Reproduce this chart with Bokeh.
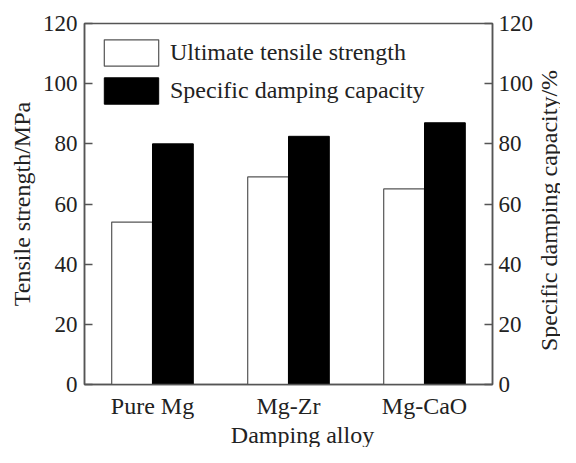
import math
from bokeh.plotting import figure
from bokeh.layouts import row, column
from bokeh.models import (ColumnDataSource, Range1d, LinearAxis, Legend, LegendItem,
                          FixedTicker, FactorRange, Label)
from bokeh.transform import dodge
from bokeh.embed import file_html
from bokeh.resources import INLINE

alloys = ["Pure Mg", "Mg-Zr", "Mg-CaO"]
tensile_strength = [54, 69, 65]          # MPa
damping_capacity = [80, 82.5, 87]        # %
y_ticks = [0, 20, 40, 60, 80, 100, 120]

FONT = "Liberation Serif"
TXT = "#222222"
AX = "#555555"
FS = "24px"

src = ColumnDataSource(dict(alloy=alloys, uts=tensile_strength, sdc=damping_capacity))

W, H, SIDE, STRIP = 536, 421, 24, 26
ML, MR, MT, MB = 84, 42, 23, 32

p = figure(x_range=FactorRange(*alloys, range_padding=0), y_range=Range1d(0, 120),
           width=W, height=H, output_backend="svg", toolbar_location=None,
           min_border_left=ML, min_border_right=MR, min_border_top=MT, min_border_bottom=MB)
p.extra_y_ranges = {"sdc": Range1d(0, 120)}

r1 = p.vbar(x=dodge("alloy", -0.15, range=p.x_range), top="uts", width=0.3,
            source=src, fill_color="white", line_color=AX, line_width=1.2)
r2 = p.vbar(x=dodge("alloy", 0.15, range=p.x_range), top="sdc", width=0.3, source=src,
            fill_color="black", line_color="black", y_range_name="sdc")

p.grid.visible = False
p.outline_line_color = AX
p.outline_line_width = 1.5
p.background_fill_color = "white"
p.border_fill_color = "white"

def style_axis(ax):
    ax.axis_line_color = AX
    ax.axis_line_width = 1.5
    ax.major_tick_line_color = AX
    ax.major_tick_line_width = 1.5
    ax.minor_tick_line_color = None
    ax.major_label_text_font = FONT
    ax.major_label_text_font_size = "23px"
    ax.major_label_text_color = TXT
    ax.axis_label_text_font = FONT
    ax.axis_label_text_font_size = FS
    ax.axis_label_text_font_style = "normal"
    ax.axis_label_text_color = TXT

yl = p.yaxis[0]
yl.ticker = FixedTicker(ticks=y_ticks)
yl.axis_label = "Tensile strength/MPa"
yl.major_tick_in = 8
yl.major_tick_out = 0
yl.major_label_standoff = 7
yl.axis_label_standoff = 5
style_axis(yl)

yr = LinearAxis(y_range_name="sdc", ticker=FixedTicker(ticks=y_ticks))
yr.major_tick_in = 8
yr.major_tick_out = 0
yr.major_label_standoff = 6
style_axis(yr)
p.add_layout(yr, "right")

xa = p.xaxis[0]
xa.major_label_standoff = 2
style_axis(xa)
xa.major_label_text_font_size = FS
xa.major_tick_line_color = None

legend = Legend(items=[LegendItem(label="Ultimate tensile strength", renderers=[r1]),
                       LegendItem(label="Specific damping capacity", renderers=[r2])],
                location="top_left", margin=13, padding=0, spacing=5,
                glyph_width=68, glyph_height=33, label_height=33, label_standoff=5,
                label_text_font=FONT, label_text_font_size=FS, label_text_color=TXT,
                border_line_color=None, background_fill_alpha=0)
p.add_layout(legend)

def blank(width, height, **borders):
    f = figure(width=width, height=height, output_backend="svg", toolbar_location=None,
               x_axis_type=None, y_axis_type=None, x_range=Range1d(0, 1),
               y_range=Range1d(0, 1), **borders)
    f.outline_line_color = None
    f.grid.visible = False
    f.border_fill_color = "white"
    return f

# narrow strip on the right carrying the right-hand axis title (reads bottom to top)
side = blank(SIDE, H, min_border_left=0, min_border_right=0,
             min_border_top=MT, min_border_bottom=MB)
side.add_layout(Label(x=12, y=(H - MB) - 215, x_units="screen", y_units="screen",
                      text="Specific damping capacity/%", angle=math.pi / 2,
                      text_align="center", text_baseline="middle",
                      text_font=FONT, text_font_size=FS, text_color=TXT))

# strip underneath carrying the x-axis title
strip = blank(W + SIDE, STRIP, min_border_left=ML, min_border_right=MR + SIDE,
              min_border_top=0, min_border_bottom=0)
strip.add_layout(Label(x=302 - ML, y=STRIP / 2, x_units="screen", y_units="screen",
                       text="Damping alloy", text_align="center", text_baseline="middle",
                       text_font=FONT, text_font_size=FS, text_color=TXT))

open("out.html", "w").write(file_html(column(row(p, side), strip), INLINE))
